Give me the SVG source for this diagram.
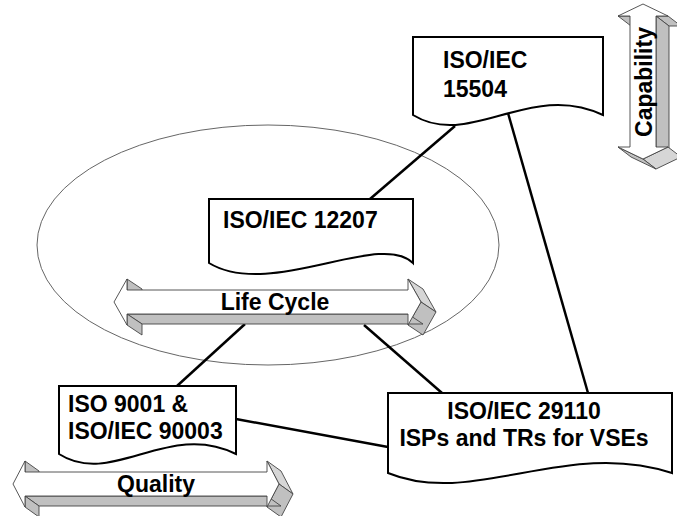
<svg xmlns="http://www.w3.org/2000/svg" width="677" height="516" viewBox="0 0 677 516">
<style>
.doc{fill:#fff;stroke:#000;stroke-width:2}
.t{font-family:"Liberation Sans",Arial,sans-serif;font-weight:bold;font-size:23px;fill:#000}
.side{fill:#c0c0c0;stroke:#444;stroke-width:0.9;stroke-linejoin:round}
.side2{fill:#d6d6d6;stroke:#444;stroke-width:0.9;stroke-linejoin:round}
.front{fill:#fff;stroke:#444;stroke-width:0.9;stroke-linejoin:round}
.con{stroke:#000;stroke-width:2.5;fill:none}
</style>
<rect width="677" height="516" fill="#fff"/>
<ellipse id="scope" cx="268" cy="245" rx="231" ry="120" fill="none" stroke="#666" stroke-width="1"/>
<g id="connectors">
<line class="con" x1="455" y1="126" x2="370" y2="199"/>
<line class="con" x1="508" y1="113" x2="588" y2="393"/>
<line class="con" x1="245" y1="324" x2="177" y2="386"/>
<line class="con" x1="364" y1="325" x2="442" y2="393"/>
<line class="con" x1="236" y1="419" x2="388" y2="447"/>
</g>
<g id="lifecycle">
<polygon class="side" points="127,279 127,290 142,300 142,289"/>
<polygon class="side2" points="408,279 421,302 436,312 423,289"/>
<polygon class="side" points="421,302 408,325 423,335 436,312"/>
<polygon class="side" points="408,314 127,314 142,324 423,324"/>
<polygon class="side" points="127,314 127,325 142,335 142,324"/>
<polygon class="front" points="114,302 127,279 127,290 408,290 408,279 421,302 408,325 408,314 127,314 127,325"/>
<text class="t" x="275" y="310" text-anchor="middle">Life Cycle</text>
</g>
<g id="quality">
<polygon class="side" points="25,461 25,472 39,482 39,471"/>
<polygon class="side2" points="267,461 279,484 293,494 281,471"/>
<polygon class="side" points="279,484 267,507 281,517 293,494"/>
<polygon class="side" points="267,496 25,496 39,506 281,506"/>
<polygon class="side" points="25,496 25,507 39,517 39,506"/>
<polygon class="front" points="13,484 25,461 25,472 267,472 267,461 279,484 267,507 267,496 25,496 25,507"/>
<text class="t" x="156" y="492" text-anchor="middle">Quality</text>
</g>
<g id="capability">
<polygon class="side" points="668,16 656,16 669,26 681,26"/>
<polygon class="side" points="656,16 656,147 669,157 669,26"/>
<polygon class="side2" points="668,147 643,159 656,169 681,157"/>
<polygon class="side" points="643,159 618,147 631,157 656,169"/>
<polygon class="side" points="630,16 618,16 631,26 643,26"/>
<polygon class="front" points="643,4 668,16 656,16 656,147 668,147 643,159 618,147 630,147 630,16 618,16"/>
<text class="t" transform="translate(652,82) rotate(-90)" text-anchor="middle">Capability</text>
</g>
<g id="iso15504">
<path class="doc" d="M413,37 H603 V115 C530,80 470,150 413,115 Z"/>
<text class="t" x="443" y="68">ISO/IEC</text>
<text class="t" x="443" y="97">15504</text>
</g>
<g id="iso12207">
<path class="doc" d="M209,199 H413 V263 C380,230 270,300 209,263 Z"/>
<text class="t" x="223" y="228">ISO/IEC 12207</text>
</g>
<g id="iso9001">
<path class="doc" d="M59,386 H236 V454 C168,420 112,488 59,454 Z"/>
<text class="t" x="68" y="412">ISO 9001 &amp;</text>
<text class="t" x="68" y="439">ISO/IEC 90003</text>
</g>
<g id="iso29110">
<path class="doc" d="M388,393 H672 V473 C566,438 473,508 388,473 Z"/>
<text class="t" x="524" y="419" text-anchor="middle">ISO/IEC 29110</text>
<text class="t" x="524" y="446" text-anchor="middle">ISPs and TRs for VSEs</text>
</g>
</svg>
